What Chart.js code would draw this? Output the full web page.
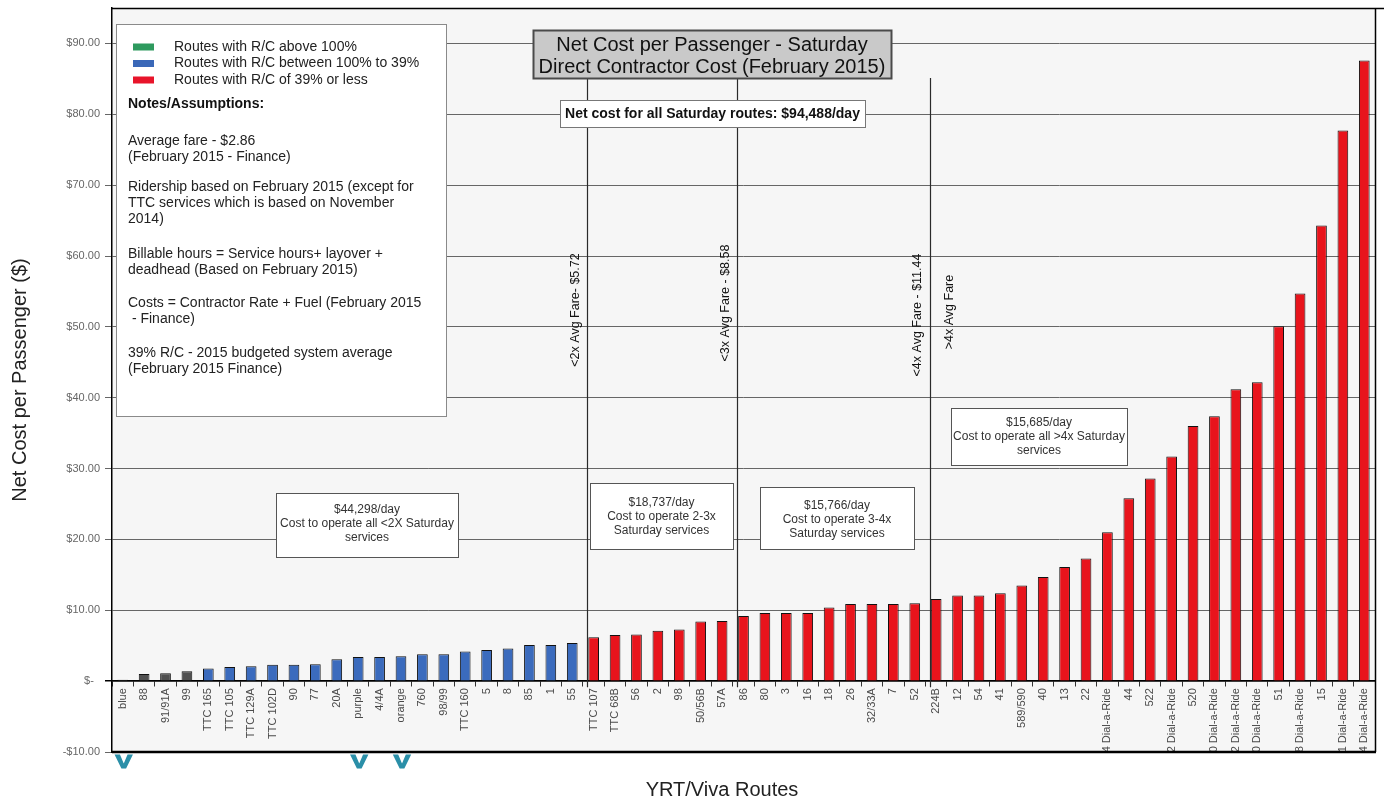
<!DOCTYPE html>
<html>
<head>
<meta charset="utf-8">
<title>Net Cost per Passenger - Saturday</title>
<script src="https://cdn.jsdelivr.net/npm/chart.js@4.4.1/dist/chart.umd.min.js"></script>
<style>
  html, body { margin: 0; padding: 0; background: #ffffff; }
  #wrap { width: 1384px; height: 804px; }
</style>
</head>
<body>
<div id="wrap"><canvas id="chart" width="1384" height="804"></canvas></div>
<script>
const FONT = '"Liberation Sans", Arial, Helvetica, sans-serif';

// Saturday routes, ordered by net cost per passenger
const routes = [
  'blue', '88', '91/91A', '99', 'TTC 165', 'TTC 105', 'TTC 129A', 'TTC 102D', '90', '77',
  '20A', 'purple', '4/4A', 'orange', '760', '98/99', 'TTC 160', '5', '8', '85',
  '1', '55', 'TTC 107', 'TTC 68B', '56', '2', '98', '50/56B', '57A', '86',
  '80', '3', '16', '18', '26', '32/33A', '7', '52', '224B', '12',
  '54', '41', '589/590', '40', '13', '22', '4 Dial-a-Ride', '44', '522', '2 Dial-a-Ride',
  '520', '0 Dial-a-Ride', '2 Dial-a-Ride', '0 Dial-a-Ride', '51', '8 Dial-a-Ride', '15', '1 Dial-a-Ride', '84 Dial-a-Ride'
];

// Net cost per passenger ($)
const netCost = [
  0.2, 1.0, 1.1, 1.4, 1.8, 2.0, 2.1, 2.3, 2.3, 2.4,
  3.1, 3.4, 3.4, 3.5, 3.8, 3.8, 4.2, 4.4, 4.6, 5.1,
  5.1, 5.4, 6.2, 6.5, 6.6, 7.1, 7.3, 8.4, 8.5, 9.2,
  9.6, 9.6, 9.6, 10.4, 10.9, 10.9, 10.9, 11.0, 11.6, 12.1,
  12.1, 12.4, 13.5, 14.7, 16.1, 17.3, 21.0, 25.8, 28.6, 31.7,
  36.0, 37.4, 41.2, 42.2, 50.1, 54.7, 64.3, 77.7, 87.6
];

// Revenue/cost class per route: G above 100%, B 100% to 39%, R 39% or less
const rcTier = 'GGGGBBBBBBBBBBBBBBBBBBRRRRRRRRRRRRRRRRRRRRRRRRRRRRRRRRRRRRR'.split('');

// Value axis
const yMin = -10, yMax = 95, yStep = 10, yTopTick = 90;

// Fare multiples: each band ends at the named route
const fareBands = [
  { lastRoute: '55',  label: '<2x Avg Fare- $5.72' },
  { lastRoute: '57A', label: '<3x Avg Fare - $8.58' },
  { lastRoute: '52',  label: '<4x Avg Fare - $11.44' }
];
const overBandLabel = '>4x Avg Fare';

// Routes flagged below the axis
const flaggedRoutes = ['blue', 'purple', 'orange'];

const legendItems = [
  { color: '#2e9a5e', text: 'Routes with R/C above 100%' },
  { color: '#3a68b8', text: 'Routes with R/C between 100% to 39%' },
  { color: '#e8142a', text: 'Routes with R/C of 39% or less' }
];

const notes = [
  ['Average fare - $2.86', '(February 2015 - Finance)'],
  ['Ridership based on February 2015 (except for', 'TTC services which is based on November', '2014)'],
  ['Billable hours = Service hours+ layover +', 'deadhead (Based on February 2015)'],
  ['Costs = Contractor Rate + Fuel (February 2015', ' - Finance)'],
  ['39% R/C - 2015 budgeted system average', '(February 2015 Finance)']
];

const titleLines = ['Net Cost per Passenger - Saturday', 'Direct Contractor Cost (February 2015)'];
const totalLine = 'Net cost for all Saturday routes: $94,488/day';

const bandCosts = [
  ['$44,298/day', 'Cost to operate all <2X Saturday', 'services'],
  ['$18,737/day', 'Cost to operate 2-3x', 'Saturday services'],
  ['$15,766/day', 'Cost to operate 3-4x', 'Saturday services'],
  ['$15,685/day', 'Cost to operate all >4x Saturday', 'services']
];

const tierColor = { G: '#505050', B: '#3b6bbd', R: '#e8141c' };

function moneyTick(v) {
  if (v === 0) return '$-  ';
  if (v < 0) return '-$' + Math.abs(v).toFixed(2);
  return '$' + v.toFixed(2);
}

function drawBox(ctx, x, y, w, h, fill, stroke, lw) {
  ctx.save();
  ctx.fillStyle = fill;
  ctx.fillRect(x, y, w, h);
  ctx.strokeStyle = stroke;
  ctx.lineWidth = lw;
  ctx.strokeRect(x + 0.5, y + 0.5, w, h);
  ctx.restore();
}

function centeredLines(ctx, lines, cx, y0, step, font, color) {
  ctx.save();
  ctx.font = font;
  ctx.fillStyle = color;
  ctx.textAlign = 'center';
  ctx.textBaseline = 'middle';
  lines.forEach((t, i) => ctx.fillText(t, cx, y0 + i * step));
  ctx.restore();
}

const decorations = {
  id: 'decorations',
  beforeDraw(chart) {
    const { ctx, chartArea: a } = chart;
    ctx.save();
    ctx.fillStyle = '#f6f6f6';
    ctx.fillRect(a.left, a.top, a.right - a.left, a.bottom - a.top);
    ctx.restore();
  },
  afterDatasetsDraw(chart) {
    const { ctx, chartArea: a, scales: { x, y } } = chart;
    const step = x.getPixelForValue(1) - x.getPixelForValue(0);
    const y0 = y.getPixelForValue(0);
    const ox = a.left, oy = a.top;

    // title box geometry (needed for separator tops)
    const tb = { x: ox + 421, y: oy + 22, w: 358, h: 48 };

    // band separators
    const sepX = fareBands.map(b => x.getPixelForValue(routes.indexOf(b.lastRoute) + 1) - step * 0.3);
    ctx.save();
    ctx.strokeStyle = '#2a2a2a';
    ctx.lineWidth = 1.2;
    sepX.forEach(sx => {
      ctx.beginPath();
      ctx.moveTo(Math.round(sx) + 0.5, tb.y + tb.h);
      ctx.lineTo(Math.round(sx) + 0.5, y0 + 6);
      ctx.stroke();
    });
    ctx.restore();

    // band labels, reading upward beside each separator
    ctx.save();
    ctx.fillStyle = '#111';
    ctx.font = '12.5px ' + FONT;
    ctx.textAlign = 'center';
    ctx.textBaseline = 'middle';
    const bandLabelY = [310, 303, 315];
    fareBands.forEach((b, i) => {
      ctx.save();
      ctx.translate(sepX[i] - 12, bandLabelY[i]);
      ctx.rotate(-Math.PI / 2);
      ctx.fillText(b.label, 0, 0);
      ctx.restore();
    });
    ctx.save();
    ctx.translate(sepX[2] + 20, 312);
    ctx.rotate(-Math.PI / 2);
    ctx.fillText(overBandLabel, 0, 0);
    ctx.restore();
    ctx.restore();

    // title
    drawBox(ctx, tb.x, tb.y, tb.w, tb.h, '#c9c9c9', '#4a4a4a', 2);
    centeredLines(ctx, titleLines, tb.x + tb.w / 2, tb.y + 15, 22, '20px ' + FONT, '#111');

    // total cost box
    drawBox(ctx, ox + 448, oy + 92, 305, 27, '#ffffff', '#777', 1);
    centeredLines(ctx, [totalLine], ox + 448 + 152.5, oy + 106, 0, 'bold 14px ' + FONT, '#111');

    // legend and notes box
    const nb = { x: ox + 4, y: oy + 16, w: 330, h: 392 };
    drawBox(ctx, nb.x, nb.y, nb.w, nb.h, '#ffffff', '#8a8a8a', 1);
    ctx.save();
    ctx.textBaseline = 'middle';
    ctx.textAlign = 'left';
    ctx.font = '14px ' + FONT;
    legendItems.forEach((it, i) => {
      const ly = oy + 39 + i * 16.5;
      ctx.fillStyle = it.color;
      ctx.fillRect(ox + 21, ly - 3.5, 21, 7);
      ctx.fillStyle = '#222';
      ctx.fillText(it.text, ox + 62, ly);
    });
    ctx.font = 'bold 14px ' + FONT;
    ctx.fillStyle = '#111';
    ctx.fillText('Notes/Assumptions:', ox + 16, oy + 96);
    ctx.font = '14px ' + FONT;
    ctx.fillStyle = '#222';
    const paraTop = [133, 179, 246, 295, 345];
    notes.forEach((para, p) => {
      para.forEach((line, i) => ctx.fillText(line, ox + 16, oy + paraTop[p] + i * 16));
    });
    ctx.restore();

    // band cost boxes
    const cb = [
      { x: ox + 164, y: 493, w: 182, h: 64, t: 510 },
      { x: ox + 478, y: 483, w: 143, h: 66, t: 503 },
      { x: ox + 648, y: 487, w: 154, h: 62, t: 506 },
      { x: ox + 839, y: 408, w: 176, h: 57, t: 423 }
    ];
    cb.forEach((b, i) => {
      drawBox(ctx, b.x, b.y, b.w, b.h, '#ffffff', '#555', 1);
      centeredLines(ctx, bandCosts[i], b.x + b.w / 2, b.t, 14, '12px ' + FONT, '#333');
    });
  },
  afterDraw(chart) {
    const { ctx, chartArea: a, scales: { x } } = chart;
    ctx.save();
    // labels are clipped at the plot frame
    ctx.fillStyle = '#ffffff';
    ctx.fillRect(a.left, a.bottom + 1, a.right - a.left + 4, 20);
    // plot frame
    ctx.strokeStyle = '#000';
    ctx.lineWidth = 1.5;
    ctx.beginPath();
    ctx.moveTo(a.left, a.top + 0.5);
    ctx.lineTo(chart.width, a.top + 0.5);
    ctx.moveTo(a.right + 0.5, a.top);
    ctx.lineTo(a.right + 0.5, a.bottom);
    ctx.stroke();
    ctx.lineWidth = 2.5;
    ctx.beginPath();
    ctx.moveTo(a.left, a.bottom);
    ctx.lineTo(a.right + 1, a.bottom);
    ctx.stroke();

    // flag markers under selected routes
    ctx.fillStyle = '#2b8fa8';
    ctx.strokeStyle = '#2b8fa8';
    ctx.lineWidth = 1.2;
    ctx.font = 'bold 19px ' + FONT;
    ctx.textAlign = 'center';
    ctx.textBaseline = 'middle';
    flaggedRoutes.forEach(r => {
      const px = x.getPixelForValue(routes.indexOf(r));
      ctx.save();
      ctx.translate(px + 1, a.bottom + 11);
      ctx.scale(1.3, 1);
      ctx.fillText('V', 0, 0);
      ctx.strokeText('V', 0, 0);
      ctx.restore();
    });

    // category axis title
    ctx.fillStyle = '#222';
    ctx.font = '20px ' + FONT;
    ctx.fillText('YRT/Viva Routes', 722, 790);
    ctx.restore();
  }
};

new Chart(document.getElementById('chart'), {
  type: 'bar',
  data: {
    labels: routes,
    datasets: [{
      data: netCost,
      backgroundColor: ctx => tierColor[rcTier[ctx.dataIndex]],
      borderColor: '#111',
      borderWidth: 1,
      barPercentage: 0.5,
      categoryPercentage: 1.0
    }]
  },
  options: {
    responsive: false,
    animation: false,
    devicePixelRatio: 1,
    layout: { padding: { top: 8, right: 9, left: 0, bottom: 52 } },
    plugins: {
      legend: { display: false },
      tooltip: { enabled: false },
      title: { display: false }
    },
    scales: {
      x: {
        type: 'category',
        position: { y: 0 },
        offset: true,
        grid: { display: true, drawOnChartArea: false, drawTicks: true, tickLength: 5, color: '#333', offset: true },
        border: { display: true, color: '#000', width: 1.5 },
        ticks: {
          autoSkip: false, maxRotation: 90, minRotation: 90, padding: 2,
          color: '#4a4a4a', font: { family: FONT, size: 11 }
        },
        afterFit: s => { s.height = 0; }
      },
      y: {
        min: yMin,
        max: yMax,
        afterBuildTicks: s => { s.ticks = s.ticks.filter(t => t.value <= yTopTick); },
        afterFit: s => { s.width = 112; s.paddingTop = 0; s.paddingBottom = 0; },
        ticks: {
          stepSize: yStep,
          padding: 5,
          color: '#666',
          font: { family: FONT, size: 11 },
          callback: moneyTick
        },
        grid: {
          color: c => (c.tick && c.tick.value === 0 ? '#000' : '#666'),
          lineWidth: c => (c.tick && c.tick.value === 0 ? 1.5 : 1),
          tickLength: 7
        },
        border: { display: true, color: '#000', width: 1.5 },
        title: {
          display: true,
          text: 'Net Cost per Passenger ($)',
          color: '#222',
          font: { family: FONT, size: 20 },
          padding: { top: 8, bottom: 0 }
        }
      }
    }
  },
  plugins: [decorations]
});
</script>
</body>
</html>
